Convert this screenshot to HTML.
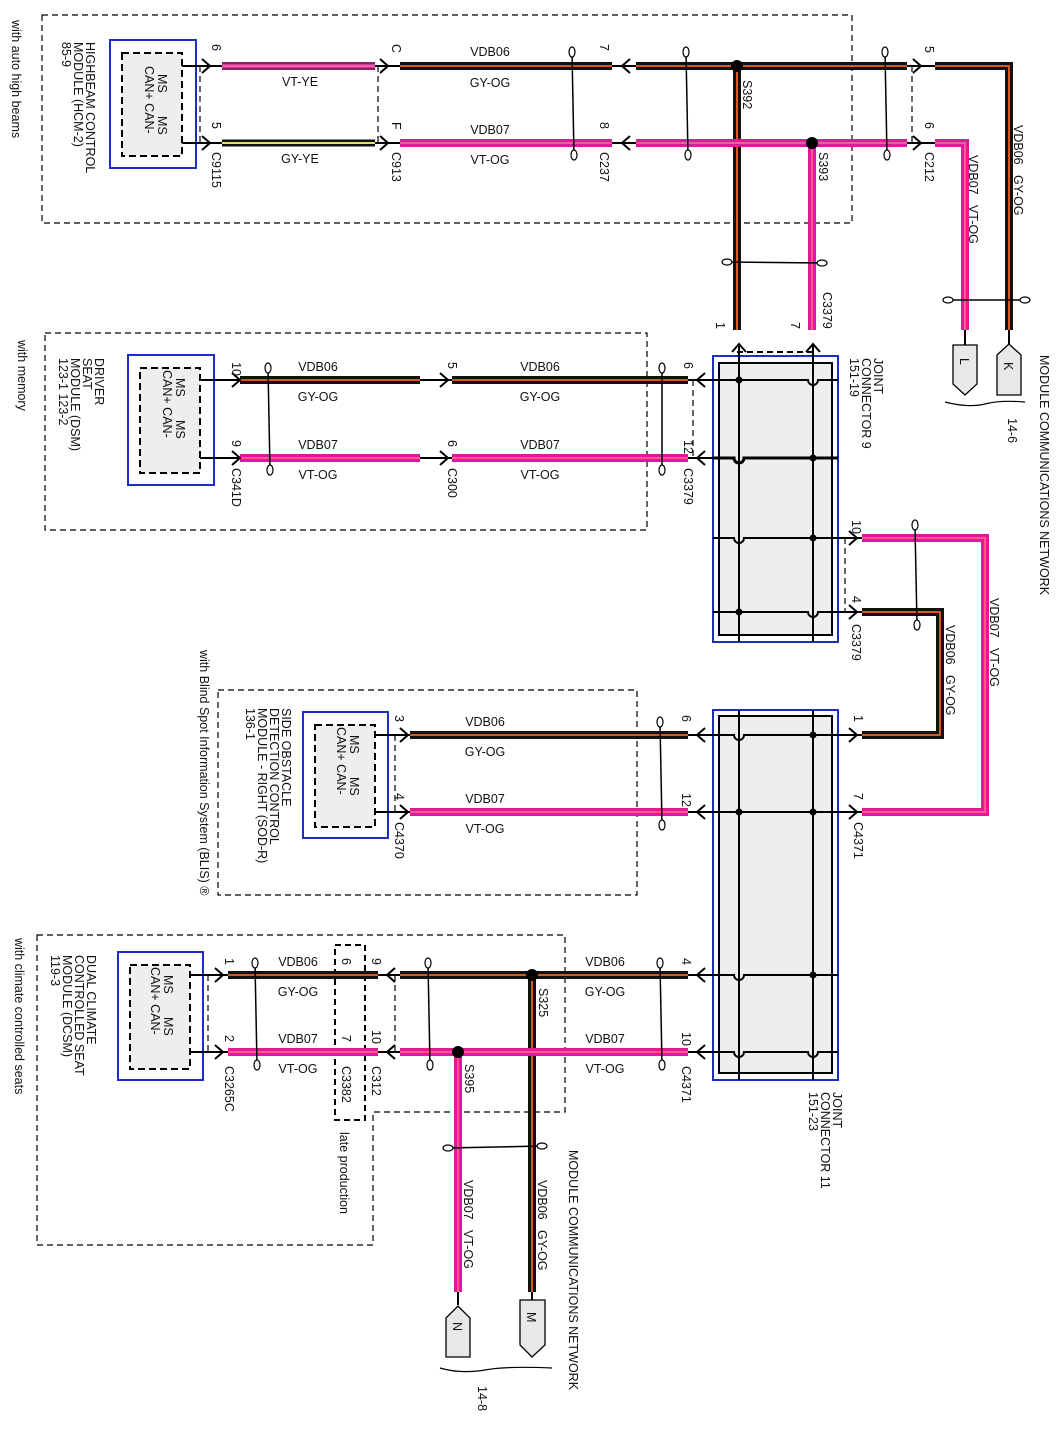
<!DOCTYPE html>
<html><head><meta charset="utf-8"><style>
html,body{margin:0;padding:0;background:#fff}
svg{display:block}
text{font-family:"Liberation Sans",sans-serif;font-size:12.5px;fill:#111}
.h{text-anchor:middle}
.bk{fill:none;stroke:#111;stroke-width:8}
.bo{fill:none;stroke:#d8571c;stroke-width:2}
.mg{fill:none;stroke:#e0189a;stroke-width:8}
.mo{fill:none;stroke:#ff5c8c;stroke-width:2}
.t{fill:none;stroke:#000;stroke-width:1.2}
.a{fill:none;stroke:#000;stroke-width:2}
.d{fill:none;stroke:#000;stroke-width:1.2;stroke-dasharray:6 4}
.dd{fill:none;stroke:#000;stroke-width:2;stroke-dasharray:6 4}
.tw{fill:none;stroke:#000;stroke-width:1.5}
.ov{fill:#fff;stroke:#000;stroke-width:1.2}
</style></head><body>
<svg width="1058" height="1436" viewBox="0 0 1058 1436" xmlns="http://www.w3.org/2000/svg">
<rect x="42" y="15" width="810" height="208" class="d"/>
<rect x="45" y="333" width="602" height="197" class="d"/>
<rect x="218" y="690" width="419" height="205" class="d"/>
<path d="M37 935 H565 V1112 H373 V1245 H37 Z" class="d"/>
<rect x="335" y="945" width="30" height="175" class="dd"/>
<path d="M200 66 V143 M378 66 V143 M912 66 V143" class="d"/>
<path d="M737 352 H812" class="dd"/>
<path d="M693 380 V458" class="d"/>
<path d="M845 538 V612" class="d"/>
<path d="M395 735 V812" class="d"/>
<path d="M208 975 V1052 M395 975 V1052" class="d"/>

<rect x="110" y="40" width="86" height="128" fill="#fff" stroke="#1a2fc0" stroke-width="2"/>
<rect x="122" y="53" width="60" height="103" fill="#eee" stroke="#000" stroke-width="2" stroke-dasharray="7 4"/>
<rect x="128" y="355" width="86" height="130" fill="#fff" stroke="#1a2fc0" stroke-width="2"/>
<rect x="140" y="368" width="60" height="105" fill="#eee" stroke="#000" stroke-width="2" stroke-dasharray="7 4"/>
<rect x="303" y="712" width="85" height="126" fill="#fff" stroke="#1a2fc0" stroke-width="2"/>
<rect x="315" y="725" width="60" height="102" fill="#eee" stroke="#000" stroke-width="2" stroke-dasharray="7 4"/>
<rect x="118" y="952" width="85" height="128" fill="#fff" stroke="#1a2fc0" stroke-width="2"/>
<rect x="130" y="965" width="60" height="104" fill="#eee" stroke="#000" stroke-width="2" stroke-dasharray="7 4"/>

<rect x="713" y="356" width="125" height="286" fill="#fff" stroke="#1a2fc0" stroke-width="2"/>
<rect x="719" y="363" width="113" height="272" fill="#eee" stroke="#000" stroke-width="2"/>
<rect x="713" y="710" width="125" height="370" fill="#fff" stroke="#1a2fc0" stroke-width="2"/>
<rect x="719" y="716" width="113" height="357" fill="#eee" stroke="#000" stroke-width="2"/>
<g class="a" stroke-width="1.5">
<path d="M739 345 V642 M813 345 V642"/>
<path d="M713 380 H808 a5 5 0 0 0 10 0 H838"/>
<path d="M713 458 H734 a5 5 0 0 0 10 0 H838" stroke-width="3"/>
<path d="M713 538 H734 a5 5 0 0 0 10 0 H845"/>
<path d="M713 612 H808 a5 5 0 0 0 10 0 H845"/>
<path d="M739 710 V1080 M813 710 V1080"/>
<path d="M700 735 H734 a5 5 0 0 0 10 0 H845"/>
<path d="M700 812 H845"/>
<path d="M700 975 H734 a5 5 0 0 0 10 0 H838"/>
<path d="M700 1052 H734 a5 5 0 0 0 10 0 H808 a5 5 0 0 0 10 0 H838"/>
</g>
<g fill="#000"><circle cx="739" cy="380" r="3.5"/><circle cx="813" cy="458" r="3.5"/><circle cx="813" cy="538" r="3.5"/><circle cx="739" cy="612" r="3.5"/>
<circle cx="813" cy="735" r="3.5"/><circle cx="739" cy="812" r="3.5"/><circle cx="813" cy="812" r="3.5"/><circle cx="813" cy="975" r="3.5"/></g>

<path class="a" stroke-width="1.5" d="M182 66 H222 M182 143 H222 M375 66 H400 M375 143 H400 M612 66 H636 M612 143 H636 M907 66 H935 M907 143 H935
M200 380 H240 M200 458 H240 M420 380 H452 M420 458 H452 M688 380 H713 M688 458 H713 M845 538 H862 M845 612 H862
M375 735 H410 M375 812 H410 M688 735 H700 M688 812 H700 M845 735 H862 M845 812 H862
M190 975 H228 M190 1052 H228 M378 975 H400 M378 1052 H400 M688 975 H700 M688 1052 H700 M1009 330 V345 M965 330 V345 M532 1290 V1300 M458 1290 V1305"/>

<path d="M222 66 H375" fill="none" stroke="#8a1f6a" stroke-width="8"/><path d="M222 66 H375" fill="none" stroke="#ff5ab0" stroke-width="3"/>
<path d="M222 143 H375" fill="none" stroke="#111" stroke-width="7"/><path d="M222 143 H375" fill="none" stroke="#e8e060" stroke-width="2"/>
<path class="bk" d="M400 66 H612 M636 66 H907 M935 66 H1009 V330 M737 66 V330 M240 380 H420 M452 380 H688 M862 612 H940 V735 H862 M410 735 H688 M228 975 H378 M400 975 H688 M532 975 V1292"/>
<path class="bo" d="M400 66 H612 M636 66 H907 M935 66 H1009 V330 M737 66 V330 M240 380 H420 M452 380 H688 M862 612 H940 V735 H862 M410 735 H688 M228 975 H378 M400 975 H688 M532 975 V1292"/>
<path class="mg" d="M400 143 H612 M636 143 H907 M935 143 H965 V330 M812 143 V330 M240 458 H420 M452 458 H688 M862 538 H985 V812 H862 M410 812 H688 M228 1052 H378 M400 1052 H688 M458 1052 V1292"/>
<path class="mo" d="M400 143 H612 M636 143 H907 M935 143 H965 V330 M812 143 V330 M240 458 H420 M452 458 H688 M862 538 H985 V812 H862 M410 812 H688 M228 1052 H378 M400 1052 H688 M458 1052 V1292"/>
<g fill="#000"><circle cx="737" cy="66" r="6"/><circle cx="812" cy="143" r="6"/><circle cx="532" cy="975" r="6"/><circle cx="458" cy="1052" r="6"/></g>

<g class="a">
<path d="M202 59 L210 66 L202 73 M202 136 L210 143 L202 150 M380 59 L388 66 L380 73 M380 136 L388 143 L380 150"/>
<path d="M630 59 L622 66 L630 73 M630 136 L622 143 L630 150 M913 59 L921 66 L913 73 M913 136 L921 143 L913 150"/>
<path d="M232 373 L240 380 L232 387 M232 451 L240 458 L232 465 M440 373 L448 380 L440 387 M440 451 L448 458 L440 465"/>
<path d="M705 373 L697 380 L705 387 M705 451 L697 458 L705 465 M849 531 L857 538 L849 545 M849 605 L857 612 L849 619"/>
<path d="M732 352 L739 344 L746 352 M806 352 L813 344 L820 352"/>
<path d="M400 728 L408 735 L400 742 M400 805 L408 812 L400 819 M705 728 L697 735 L705 742 M705 805 L697 812 L705 819 M849 728 L857 735 L849 742 M849 805 L857 812 L849 819"/>
<path d="M215 968 L223 975 L215 982 M215 1045 L223 1052 L215 1059 M395 968 L387 975 L395 982 M395 1045 L387 1052 L395 1059 M705 968 L697 975 L705 982 M705 1045 L697 1052 L705 1059"/>
</g>

<g>
<path class="tw" d="M572 52 L574 155 M686 52 L688 155 M885 52 L887 155 M727 262 L822 263 M948 300 L1025 300 M268 368 L270 470 M662 368 L662 470 M915 525 L917 625 M660 722 L662 825 M255 963 L257 1065 M428 963 L430 1065 M660 963 L662 1065 M448 1148 L542 1146"/>
<g class="ov">
<ellipse cx="572" cy="52" rx="3" ry="5"/><ellipse cx="574" cy="155" rx="3" ry="5"/><ellipse cx="686" cy="52" rx="3" ry="5"/><ellipse cx="688" cy="155" rx="3" ry="5"/><ellipse cx="885" cy="52" rx="3" ry="5"/><ellipse cx="887" cy="155" rx="3" ry="5"/>
<ellipse cx="727" cy="262" rx="5" ry="3"/><ellipse cx="822" cy="263" rx="5" ry="3"/><ellipse cx="948" cy="300" rx="5" ry="3"/><ellipse cx="1025" cy="300" rx="5" ry="3"/>
<ellipse cx="268" cy="368" rx="3" ry="5"/><ellipse cx="270" cy="470" rx="3" ry="5"/><ellipse cx="662" cy="368" rx="3" ry="5"/><ellipse cx="662" cy="470" rx="3" ry="5"/>
<ellipse cx="915" cy="525" rx="3" ry="5"/><ellipse cx="917" cy="625" rx="3" ry="5"/><ellipse cx="660" cy="722" rx="3" ry="5"/><ellipse cx="662" cy="825" rx="3" ry="5"/>
<ellipse cx="255" cy="963" rx="3" ry="5"/><ellipse cx="257" cy="1065" rx="3" ry="5"/><ellipse cx="428" cy="963" rx="3" ry="5"/><ellipse cx="430" cy="1065" rx="3" ry="5"/><ellipse cx="660" cy="963" rx="3" ry="5"/><ellipse cx="662" cy="1065" rx="3" ry="5"/>
<ellipse cx="448" cy="1148" rx="5" ry="3"/><ellipse cx="542" cy="1146" rx="5" ry="3"/>
</g></g>

<g fill="#e8e8e8" stroke="#000" stroke-width="1.3">
<path d="M997 355 L1009 344 L1021 355 V395 H997 Z"/>
<path d="M953 345 H977 V384 L965 395 L953 384 Z"/>
<path d="M520 1300 H545 V1345 L532 1357 L520 1345 Z"/>
<path d="M446 1318 L458 1306 L470 1318 V1357 H446 Z"/>
</g>
<path class="t" d="M945 402 Q968 408 985 404 Q1000 400 1025 402 M440 1368 Q460 1374 485 1370 Q505 1366 552 1368"/>

<g class="h">
<text x="300" y="86">VT-YE</text><text x="300" y="163">GY-YE</text>
<text x="490" y="56">VDB06</text><text x="490" y="87">GY-OG</text><text x="490" y="134">VDB07</text><text x="490" y="164">VT-OG</text>
<text x="318" y="371">VDB06</text><text x="318" y="401">GY-OG</text><text x="318" y="449">VDB07</text><text x="318" y="479">VT-OG</text>
<text x="540" y="371">VDB06</text><text x="540" y="401">GY-OG</text><text x="540" y="449">VDB07</text><text x="540" y="479">VT-OG</text>
<text x="485" y="726">VDB06</text><text x="485" y="756">GY-OG</text><text x="485" y="803">VDB07</text><text x="485" y="833">VT-OG</text>
<text x="298" y="966">VDB06</text><text x="298" y="996">GY-OG</text><text x="298" y="1043">VDB07</text><text x="298" y="1073">VT-OG</text>
<text x="605" y="966">VDB06</text><text x="605" y="996">GY-OG</text><text x="605" y="1043">VDB07</text><text x="605" y="1073">VT-OG</text>
</g>

<g>
<text transform="translate(12,20) rotate(90)">with auto high beams</text>
<text transform="translate(86,42) rotate(90)">HIGHBEAM CONTROL</text>
<text transform="translate(74,42) rotate(90)">MODULE (HCM-2)</text>
<text transform="translate(62,42) rotate(90)">85-9</text>
<text transform="translate(158,74) rotate(90)">MS<tspan x="42">MS</tspan></text>
<text transform="translate(145,66) rotate(90)">CAN+ CAN-</text>
<text transform="translate(212,44) rotate(90)">6</text><text transform="translate(212,122) rotate(90)">5</text><text transform="translate(212,152) rotate(90)">C9115</text>
<text transform="translate(392,44) rotate(90)">C</text><text transform="translate(392,122) rotate(90)">F</text><text transform="translate(392,152) rotate(90)">C913</text>
<text transform="translate(600,44) rotate(90)">7</text><text transform="translate(600,122) rotate(90)">8</text><text transform="translate(600,152) rotate(90)">C237</text>
<text transform="translate(925,46) rotate(90)">5</text><text transform="translate(925,122) rotate(90)">6</text><text transform="translate(925,152) rotate(90)">C212</text>
<text transform="translate(743,80) rotate(90)">S392</text><text transform="translate(819,152) rotate(90)">S393</text>
<text transform="translate(1014,125) rotate(90)">VDB06<tspan x="50">GY-OG</tspan></text>
<text transform="translate(969,155) rotate(90)">VDB07<tspan x="50">VT-OG</tspan></text>
<text transform="translate(823,292) rotate(90)">C3379</text>
<text transform="translate(716,322) rotate(90)">1</text><text transform="translate(791,322) rotate(90)">7</text>
<text transform="translate(1040,355) rotate(90)">MODULE COMMUNICATIONS NETWORK</text>
<text transform="translate(1008,418) rotate(90)">14-6</text>
<text transform="translate(1004,362) rotate(90)">K</text><text transform="translate(960,358) rotate(90)">L</text>
<text transform="translate(874,358) rotate(90)">JOINT</text>
<text transform="translate(862,358) rotate(90)">CONNECTOR 9</text>
<text transform="translate(850,358) rotate(90)">151-19</text>

<text transform="translate(18,340) rotate(90)">with memory</text>
<text transform="translate(95,358) rotate(90)">DRIVER</text>
<text transform="translate(83,358) rotate(90)">SEAT</text>
<text transform="translate(71,358) rotate(90)">MODULE (DSM)</text>
<text transform="translate(59,358) rotate(90)">123-1  123-2</text>
<text transform="translate(176,378) rotate(90)">MS<tspan x="42">MS</tspan></text>
<text transform="translate(163,370) rotate(90)">CAN+ CAN-</text>
<text transform="translate(232,362) rotate(90)">10</text><text transform="translate(232,440) rotate(90)">9</text><text transform="translate(232,468) rotate(90)">C341D</text>
<text transform="translate(448,362) rotate(90)">5</text><text transform="translate(448,440) rotate(90)">6</text><text transform="translate(448,468) rotate(90)">C300</text>
<text transform="translate(684,362) rotate(90)">6</text><text transform="translate(684,440) rotate(90)">12</text><text transform="translate(684,468) rotate(90)">C3379</text>
<text transform="translate(852,520) rotate(90)">10</text><text transform="translate(852,596) rotate(90)">4</text><text transform="translate(852,624) rotate(90)">C3379</text>
<text transform="translate(946,625) rotate(90)">VDB06<tspan x="50">GY-OG</tspan></text>
<text transform="translate(990,598) rotate(90)">VDB07<tspan x="50">VT-OG</tspan></text>

<text transform="translate(200,650) rotate(90)">with Blind Spot Information System (BLIS) ®</text>
<text transform="translate(282,708) rotate(90)">SIDE OBSTACLE</text>
<text transform="translate(270,708) rotate(90)">DETECTION CONTROL</text>
<text transform="translate(258,708) rotate(90)">MODULE - RIGHT (SOD-R)</text>
<text transform="translate(246,708) rotate(90)">136-1</text>
<text transform="translate(350,735) rotate(90)">MS<tspan x="42">MS</tspan></text>
<text transform="translate(337,727) rotate(90)">CAN+ CAN-</text>
<text transform="translate(395,715) rotate(90)">3</text><text transform="translate(395,793) rotate(90)">4</text><text transform="translate(395,822) rotate(90)">C4370</text>
<text transform="translate(682,715) rotate(90)">6</text><text transform="translate(682,793) rotate(90)">12</text>
<text transform="translate(854,715) rotate(90)">1</text><text transform="translate(854,793) rotate(90)">7</text><text transform="translate(854,822) rotate(90)">C4371</text>

<text transform="translate(15,938) rotate(90)">with climate controlled seats</text>
<text transform="translate(87,955) rotate(90)">DUAL CLIMATE</text>
<text transform="translate(75,955) rotate(90)">CONTROLLED SEAT</text>
<text transform="translate(63,955) rotate(90)">MODULE (DCSM)</text>
<text transform="translate(51,955) rotate(90)">119-3</text>
<text transform="translate(164,975) rotate(90)">MS<tspan x="42">MS</tspan></text>
<text transform="translate(151,967) rotate(90)">CAN+ CAN-</text>
<text transform="translate(225,958) rotate(90)">1</text><text transform="translate(225,1035) rotate(90)">2</text><text transform="translate(225,1066) rotate(90)">C3265C</text>
<text transform="translate(342,958) rotate(90)">6</text><text transform="translate(342,1035) rotate(90)">7</text><text transform="translate(342,1066) rotate(90)">C3382</text>
<text transform="translate(372,958) rotate(90)">9</text><text transform="translate(372,1030) rotate(90)">10</text><text transform="translate(372,1066) rotate(90)">C312</text>
<text transform="translate(682,958) rotate(90)">4</text><text transform="translate(682,1032) rotate(90)">10</text><text transform="translate(682,1066) rotate(90)">C4371</text>
<text transform="translate(539,988) rotate(90)">S325</text><text transform="translate(465,1064) rotate(90)">S395</text>
<text transform="translate(340,1132) rotate(90)">late production</text>
<text transform="translate(538,1180) rotate(90)">VDB06<tspan x="50">GY-OG</tspan></text>
<text transform="translate(464,1180) rotate(90)">VDB07<tspan x="50">VT-OG</tspan></text>
<text transform="translate(569,1150) rotate(90)">MODULE COMMUNICATIONS NETWORK</text>
<text transform="translate(478,1386) rotate(90)">14-8</text>
<text transform="translate(527,1312) rotate(90)">M</text><text transform="translate(453,1322) rotate(90)">N</text>
<text transform="translate(833,1092) rotate(90)">JOINT</text>
<text transform="translate(821,1092) rotate(90)">CONNECTOR 11</text>
<text transform="translate(809,1092) rotate(90)">151-23</text>
</g>
</svg>
</body></html>
